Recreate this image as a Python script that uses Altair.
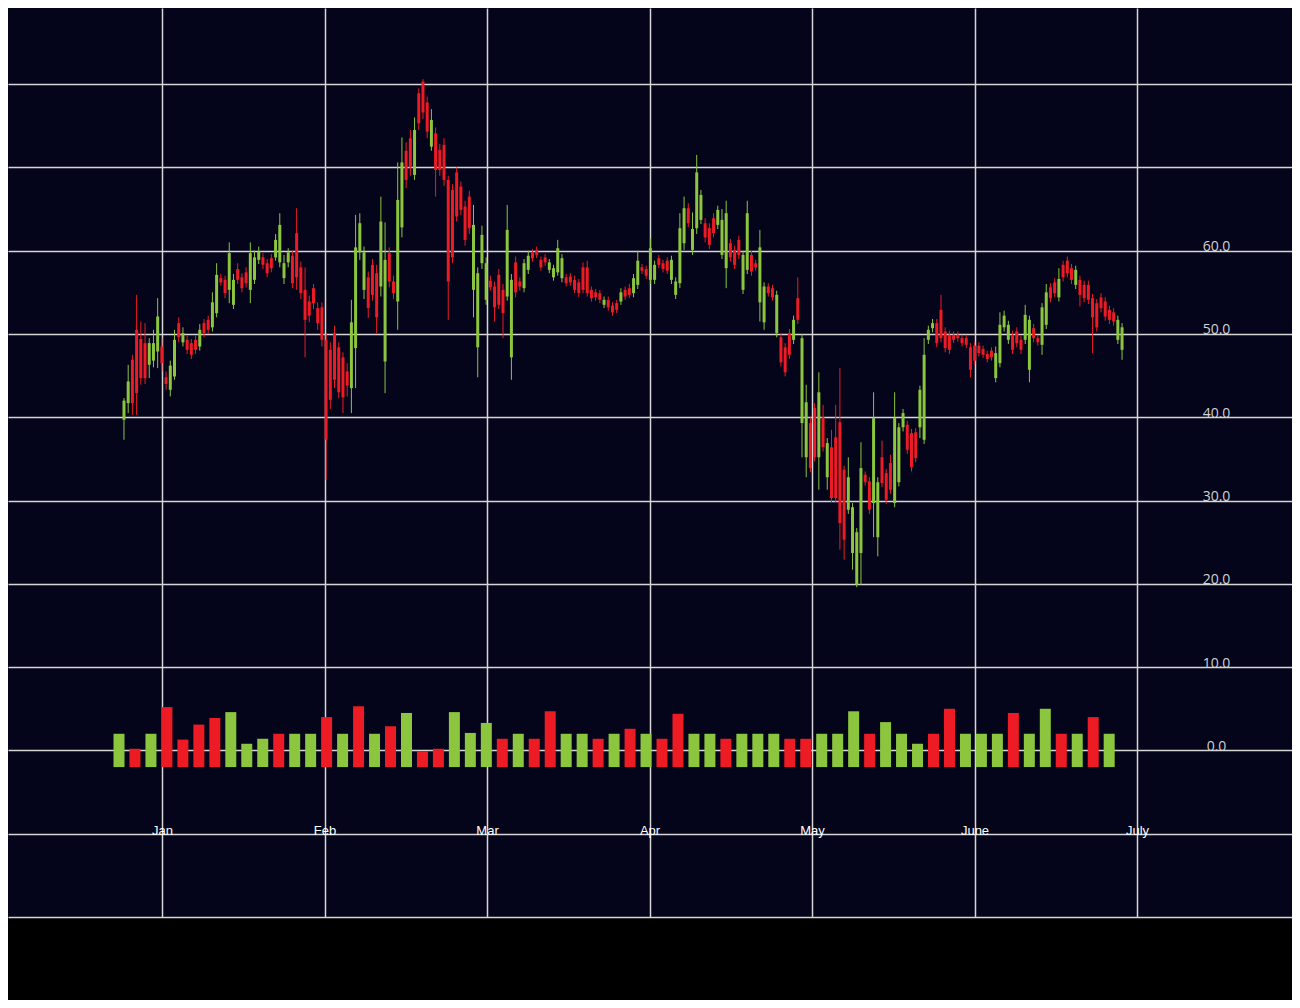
import altair as alt
import pandas as pd

# ---------------- data ----------------
MONTHS = ["Jan", "Feb", "Mar", "Apr", "May", "June", "July"]

OPEN = [39.7, 41.7, 46.9, 50.5, 49.4, 48.9, 46.3, 46.8, 47.9, 48.5, 44.8, 43.3, 44.9, 51.3, 49.0, 49.3, 48.9, 49.3, 48.5, 51.3,
        51.7, 50.8, 52.5, 56.7, 56.5, 55.3, 53.5, 57.8, 56.8, 57.4, 55.3, 56.5, 58.9, 59.2, 58.5, 59.1, 59.2, 58.6, 56.7, 58.6,
        59.4, 62.1, 58.0, 55.3, 53.9, 55.5, 53.1, 53.2, 49.3, 48.1, 50.1, 48.4, 47.2, 45.5, 43.5, 48.3, 59.8, 55.3, 56.8, 58.3, 57.3, 55.7,
        46.7, 59.7, 56.3, 53.9, 62.8, 72.0, 73.5, 69.1, 78.9, 80.3, 77.8, 72.5, 74.1, 72.1, 72.7, 68.5, 67.3, 69.4, 67.7, 65.3,
        66.5, 55.3, 48.4, 58.5, 54.1, 56.4, 55.7, 57.1, 55.3, 54.5, 47.2, 58.6, 56.3, 55.5, 57.7, 59.8, 60.1, 58.9, 59.2, 57.7, 56.8,
        57.4, 56.7, 56.8, 56.9, 56.5, 56.2, 58.0, 58.0, 55.3, 55.0, 54.9, 53.5, 54.1, 53.4, 53.7, 53.9, 55.3, 55.5, 54.9, 55.9,
        58.0, 57.8, 56.5, 56.5, 59.1, 58.5, 58.8, 56.5, 54.7, 56.1, 60.9, 65.1, 60.1, 62.7, 63.7, 63.3, 62.7, 63.9, 63.1, 59.5,
        57.9, 60.9, 60.1, 61.3, 55.3, 57.7, 59.5, 58.5, 53.8, 51.4, 55.7, 55.5, 50.1, 49.6, 48.4, 50.1, 49.3, 54.3, 39.3, 35.2,
        39.3, 41.1, 35.2, 40.0, 32.8, 36.4, 37.6, 39.4, 33.7, 28.9, 23.7, 19.9, 23.7, 33.1, 32.3, 29.7, 25.6, 35.2, 33.3, 34.5,
        29.7, 32.2, 38.8, 39.1, 38.1, 38.2, 38.8, 37.3, 49.3, 50.7, 51.3, 52.9, 50.3, 49.9, 49.9, 49.9, 49.5, 49.5, 48.4, 48.6,
        48.6, 48.2, 47.6, 48.0, 44.7, 46.5, 50.8, 49.3, 49.9, 50.3, 49.3, 49.3, 45.7, 50.7, 49.5, 48.7, 51.1, 55.6, 56.2, 54.4,
        58.3, 58.8, 57.9, 55.9, 56.5, 55.9, 55.9, 54.3, 53.7, 54.4, 53.9, 52.9, 52.6, 49.3, 48.1]

HIGH = [42.3, 46.3, 47.5, 54.7, 51.5, 51.3, 49.5, 50.5, 54.3, 49.5, 45.5, 46.8, 50.5, 52.0, 50.8, 49.8, 49.4, 49.8, 51.2, 51.8,
        52.2, 55.0, 58.5, 57.2, 57.0, 61.0, 57.2, 58.5, 57.3, 58.0, 61.0, 60.0, 60.5, 59.7, 59.0, 59.6, 62.0, 64.5, 59.5, 60.3,
        60.0, 65.1, 58.7, 58.0, 54.6, 56.0, 53.8, 53.8, 50.0, 49.0, 51.0, 49.0, 47.8, 46.5, 54.1, 64.3, 64.5, 60.5, 57.5, 59.0, 58.3, 66.5,
        63.4, 60.4, 57.0, 70.6, 73.6, 73.0, 74.5, 76.0, 79.5, 80.6, 78.5, 77.0, 74.8, 72.8, 73.5, 69.0, 68.0, 70.0, 68.3, 66.0,
        67.2, 65.5, 58.0, 63.0, 59.2, 57.0, 56.3, 57.8, 56.0, 65.5, 57.2, 59.3, 56.8, 59.0, 60.0, 60.2, 60.5, 59.3, 59.6, 59.0, 58.3,
        61.3, 59.6, 57.2, 57.3, 57.0, 56.6, 58.6, 58.8, 55.7, 55.4, 55.3, 54.5, 54.5, 53.8, 54.1, 55.5, 55.7, 56.0, 57.2, 60.0,
        58.4, 58.2, 61.5, 58.8, 59.5, 58.9, 59.2, 59.4, 56.8, 64.5, 66.5, 65.7, 64.6, 71.5, 67.3, 63.9, 63.3, 64.5, 65.4, 65.0,
        66.0, 61.4, 60.6, 61.8, 60.0, 66.0, 60.0, 58.9, 62.5, 56.2, 56.1, 55.9, 55.2, 50.1, 48.9, 50.6, 52.2, 56.8, 50.0, 43.9,
        40.0, 41.7, 45.4, 41.5, 37.5, 38.5, 41.5, 45.9, 34.2, 35.2, 29.7, 26.7, 37.0, 33.5, 32.8, 43.0, 32.8, 37.2, 33.8, 35.5,
        43.0, 39.3, 41.0, 39.6, 38.6, 38.7, 43.8, 49.5, 51.0, 51.8, 51.8, 54.7, 50.8, 50.4, 50.3, 50.3, 49.9, 49.9, 48.9, 49.0,
        49.0, 48.6, 48.0, 48.4, 48.5, 52.6, 52.8, 51.6, 50.4, 50.8, 49.8, 53.5, 52.2, 51.2, 49.9, 53.7, 56.0, 56.1, 56.7, 57.9,
        58.8, 59.3, 58.4, 58.2, 57.0, 56.4, 56.4, 54.8, 54.2, 54.9, 54.4, 53.4, 53.1, 52.2, 51.3]

LOW = [37.3, 40.5, 40.3, 40.3, 43.9, 44.0, 44.7, 46.0, 45.9, 45.5, 43.3, 42.5, 44.5, 49.0, 48.5, 47.6, 47.0, 47.6, 48.0, 49.6,
       50.0, 50.3, 52.0, 55.8, 54.3, 53.7, 53.0, 56.0, 55.0, 55.6, 53.7, 56.0, 58.4, 57.8, 56.8, 57.4, 58.8, 58.0, 56.0, 58.0,
       55.5, 55.3, 54.2, 47.2, 51.4, 53.0, 50.5, 48.5, 32.5, 41.0, 43.5, 42.3, 40.5, 42.5, 40.5, 43.5, 58.9, 54.2, 51.9, 54.0, 50.1, 54.5,
       42.9, 55.6, 54.2, 50.5, 61.6, 67.5, 69.0, 68.5, 74.5, 75.8, 73.5, 72.0, 66.5, 69.0, 67.8, 51.7, 58.5, 63.5, 64.3, 60.6,
       62.0, 52.0, 44.8, 57.8, 53.5, 55.2, 51.5, 53.0, 49.5, 54.0, 44.5, 54.4, 55.2, 55.0, 57.2, 58.7, 59.1, 57.6, 58.2, 57.3, 56.4,
       57.0, 56.2, 55.7, 55.8, 54.9, 54.4, 54.9, 54.5, 53.9, 54.0, 53.7, 53.1, 52.8, 52.2, 52.5, 53.5, 54.1, 54.3, 54.4, 55.4,
       57.2, 56.6, 56.0, 56.0, 57.9, 57.4, 57.2, 56.0, 54.2, 55.5, 60.1, 62.8, 59.5, 62.0, 63.2, 61.0, 60.2, 61.6, 62.6, 59.0,
       55.5, 58.7, 57.8, 59.0, 54.8, 57.2, 57.0, 57.6, 51.5, 50.5, 54.5, 54.0, 49.6, 46.1, 44.9, 47.0, 48.8, 51.2, 35.2, 32.8,
       33.4, 34.7, 31.3, 35.9, 31.3, 29.8, 29.8, 24.1, 22.9, 28.4, 21.7, 19.6, 19.9, 31.8, 28.4, 25.6, 23.3, 31.6, 29.6, 30.8,
       29.2, 31.7, 38.3, 35.6, 33.5, 34.6, 37.5, 36.8, 48.8, 50.2, 48.4, 49.0, 47.8, 47.6, 48.9, 49.1, 48.5, 48.3, 44.8, 46.3,
       47.3, 47.1, 46.6, 46.8, 44.2, 46.0, 50.3, 48.8, 47.6, 48.4, 47.6, 48.8, 44.2, 49.0, 48.6, 47.5, 50.6, 53.8, 54.4, 53.9,
       56.3, 56.8, 56.0, 55.4, 53.3, 53.8, 53.6, 47.7, 50.3, 52.6, 51.6, 51.2, 51.0, 48.8, 46.9]

CLOSE = [42.0, 44.3, 41.7, 42.9, 44.7, 44.7, 48.9, 48.9, 52.1, 46.5, 44.0, 46.2, 49.3, 49.6, 50.1, 48.1, 47.5, 48.1, 50.5, 50.1,
         50.5, 53.8, 57.1, 56.2, 54.9, 59.7, 56.5, 56.5, 55.5, 56.1, 59.7, 59.2, 59.9, 58.3, 57.3, 57.9, 61.3, 63.1, 58.5, 59.8,
         56.1, 56.8, 54.9, 51.7, 52.2, 53.7, 51.3, 49.3, 37.3, 42.1, 44.5, 43.0, 42.4, 43.8, 51.4, 60.4, 63.3, 59.8, 53.1, 54.7, 52.0, 63.5,
         58.9, 56.3, 54.9, 66.1, 70.6, 68.5, 70.0, 74.5, 75.3, 76.6, 74.3, 75.7, 69.7, 69.7, 68.5, 56.3, 59.2, 64.1, 64.9, 61.3,
         62.7, 63.1, 57.3, 61.9, 58.5, 55.6, 53.2, 53.5, 52.5, 62.5, 56.5, 55.0, 55.7, 58.5, 59.4, 59.1, 59.5, 58.0, 58.6, 58.6, 57.9,
         60.3, 59.1, 56.1, 56.2, 55.3, 54.9, 55.3, 54.9, 54.3, 54.4, 54.1, 54.1, 53.2, 52.6, 52.9, 55.0, 54.5, 54.7, 56.7, 58.8,
         57.6, 57.0, 60.3, 58.3, 58.3, 57.8, 57.6, 58.9, 56.3, 62.7, 65.1, 63.3, 62.6, 69.4, 66.7, 61.6, 60.7, 62.1, 64.9, 63.7,
         64.5, 59.2, 58.3, 59.5, 59.5, 64.5, 57.5, 58.0, 60.4, 55.7, 54.9, 54.4, 54.7, 46.6, 45.4, 47.5, 51.7, 51.7, 49.5, 41.8,
         33.9, 35.2, 43.0, 36.4, 36.9, 30.3, 30.3, 27.3, 25.3, 32.8, 29.2, 26.2, 33.9, 32.2, 28.9, 39.9, 32.2, 32.1, 30.1, 31.3,
         39.9, 38.8, 40.5, 36.1, 34.0, 35.1, 43.3, 47.5, 50.5, 51.3, 48.9, 49.5, 48.3, 48.1, 49.3, 49.5, 48.9, 48.7, 45.7, 46.8,
         47.7, 47.5, 47.0, 47.2, 47.7, 51.1, 52.2, 51.1, 48.1, 48.9, 48.1, 52.3, 51.7, 49.5, 49.0, 53.2, 55.0, 54.3, 54.9, 56.6,
         56.8, 57.3, 56.5, 57.7, 54.7, 54.3, 54.1, 52.0, 50.8, 53.1, 52.1, 51.7, 51.5, 51.7, 50.8]

VOLUME = [4.0, 2.2, 4.0, 7.2, 3.3, 5.1, 5.9, 6.6, 2.8, 3.4, 4.0, 4.0, 4.0, 6.0, 4.0, 7.3, 4.0, 4.9, 6.5, 1.9,
          2.2, 6.6, 4.1, 5.3, 3.4, 4.0, 3.4, 6.7, 4.0, 4.0, 3.4, 4.0, 4.6, 4.0, 3.4, 6.4, 4.0, 4.0, 3.4, 4.0,
          4.0, 4.0, 3.4, 3.4, 4.0, 4.0, 6.7, 4.0, 5.4, 4.0, 2.8, 4.0, 7.0, 4.0, 4.0, 4.0, 6.5, 4.0, 7.0, 4.0,
          4.0, 6.0, 4.0]

VOLUME_DIR = ["up", "down", "up", "down", "down", "down", "down", "up", "up", "up",
              "down", "up", "up", "down", "up", "down", "up", "down", "up", "down",
              "down", "up", "up", "up", "down", "up", "down", "down", "up", "up",
              "down", "up", "down", "up", "down", "down", "up", "up", "down", "up",
              "up", "up", "down", "down", "up", "up", "up", "down", "up", "up",
              "up", "down", "down", "up", "up", "up", "down", "up", "up", "down",
              "up", "down", "up"]

Y_TICKS = [0, 10, 20, 30, 40, 50, 60]
Y_GRID = [-20, -10, 0, 10, 20, 30, 40, 50, 60, 70, 80]

# ---------------- layout / style constants ----------------
GREEN = "#8cc63f"
RED = "#ed1c24"
PLOT_BG = "#04041a"
GRID = "#d6d6d6"

X_DOMAIN = [0.0523, 7.9538]         # month position (1 = Jan)
Y_DOMAIN = [-20.0, 89.14]
CANDLE_START, CANDLE_END = 0.766, 6.908
VOL_START, VOL_STEP = 0.7354, 0.09828
VOL_BASE = -2.0

n = len(OPEN)
candles = pd.DataFrame({
    "pos": [CANDLE_START + i * (CANDLE_END - CANDLE_START) / (n - 1) for i in range(n)],
    "open": OPEN, "high": HIGH, "low": LOW, "close": CLOSE,
})
candles["dir"] = ["up" if c >= o else "down" for o, c in zip(OPEN, CLOSE)]

vol = pd.DataFrame({
    "pos": [VOL_START + j * VOL_STEP for j in range(len(VOLUME))],
    "vol": VOLUME,
    "dir": VOLUME_DIR,
})
vol["top"] = vol["vol"] + VOL_BASE
vol["base"] = VOL_BASE

xs = alt.Scale(domain=X_DOMAIN, nice=False, zero=False, padding=0)
ys = alt.Scale(domain=Y_DOMAIN, nice=False, zero=False, padding=0)
col = alt.Color("dir:N", scale=alt.Scale(domain=["up", "down"], range=[GREEN, RED]), legend=None)

month_expr = "[''," + ",".join("'%s'" % m for m in MONTHS) + "][datum.value]"

wicks = alt.Chart(candles).mark_rule(strokeWidth=1).encode(
    x=alt.X("pos:Q", scale=xs, axis=alt.Axis(values=[1, 2, 3, 4, 5, 6, 7], grid=True, labels=False,
                                              ticks=False, domain=False, title=None)),
    y=alt.Y("low:Q", scale=ys, axis=alt.Axis(values=Y_GRID, grid=True, labels=False, ticks=False,
                                              domain=False, title=None, orient="left")),
    y2="high:Q",
    color=col,
)

bodies = alt.Chart(candles).mark_bar(size=3).encode(
    x=alt.X("pos:Q", scale=xs, axis=None),
    y=alt.Y("open:Q", scale=ys, axis=None),
    y2="close:Q",
    color=col,
)

volume = alt.Chart(vol).mark_bar(size=11).encode(
    x=alt.X("pos:Q", scale=xs, axis=alt.Axis(
        orient="bottom", offset=-83, values=[1, 2, 3, 4, 5, 6, 7], labelExpr=month_expr,
        grid=False, ticks=False, domain=False, labelPadding=0, labelBaseline="alphabetic",
        labelColor="#ffffff", labelFontSize=13, labelFont="Liberation Sans", title=None,
        labelFlush=False, labelOverlap=False)),
    y=alt.Y("top:Q", scale=ys, axis=alt.Axis(
        orient="right", offset=-76, values=Y_TICKS, format=".1f", grid=False, ticks=False,
        domain=False, labelAlign="center", labelPadding=0, labelBaseline="alphabetic",
        labelColor="#d2d2d2", labelFontSize=14, labelFont="Open Sans", title=None,
        labelOverlap=False)),
    y2="base:Q",
    color=col,
)

chart = alt.layer(wicks, bodies, volume).resolve_axis(
    x="independent", y="independent"
).properties(
    width=1284, height=909,
    autosize=alt.AutoSizeParams(type="none"),
    padding={"left": 0, "top": 0, "right": 0, "bottom": 83},
).configure(
    background="#000000",
).configure_view(
    fill=PLOT_BG, stroke=None, strokeWidth=0,
).configure_axis(
    gridColor=GRID, gridWidth=1.5, gridOpacity=1,
)

chart.save("out.html", embed_options={"renderer": "svg", "actions": False})
